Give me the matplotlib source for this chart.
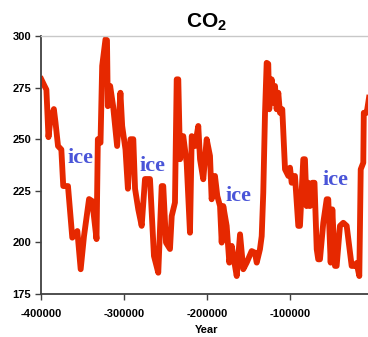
import matplotlib
matplotlib.use('Agg')
import matplotlib.pyplot as plt

plt.rcParams['font.family'] = ['Liberation Sans', 'DejaVu Sans']
plt.rcParams['mathtext.fontset'] = 'custom'
plt.rcParams['mathtext.bf'] = 'Liberation Sans:bold'
plt.rcParams['mathtext.rm'] = 'Liberation Sans'

# CO2 (ppmv), years before present
years = [-399600, -396000, -393500, -391000, -388500, -384500, -382500, -379500,
         -375500, -373200, -367500, -362300, -356200, -352200, -348200, -342100,
         -338300, -333100, -331500, -328300, -326300, -322300, -320500, -319500,
         -316700, -313100, -308300, -304300, -302200, -298200, -295300, -292200,
         -288800, -286700, -282800, -278700, -274700, -268700, -263900, -258700,
         -254600, -252700, -249400, -244600, -242500, -238600, -236500, -234600,
         -232500, -228600, -224500, -220500, -218400, -214500, -210500, -208400,
         -204500, -200400, -196400, -194400, -190400, -187600, -184300, -182300,
         -180400, -176300, -173100, -170200, -168300, -164200, -160200, -156300,
         -152200, -146200, -142200, -140100, -136200, -134100, -132200, -130100,
         -128100, -126200, -125000, -122100, -120100, -118100, -116100, -114100,
         -112100, -109300, -106000, -102000, -100000, -98000, -94000, -90000,
         -88000, -84000, -82000, -80000, -78000, -76000, -73100, -70500,
         -67800, -66000, -63900, -59900, -55800, -53900, -51000, -49000,
         -45800, -43800, -39800, -35800, -31700, -25700, -21700, -19700,
         -16500, -14800, -11700, -11100, -7600, -5700, -3000]
co2 = [279, 276, 274, 251, 260, 264.6, 258, 246.7,
       245, 227.3, 227.3, 202.3, 205.5, 187, 203, 221,
       220, 201.6, 250, 248.3, 285.5, 298.4, 298, 266,
       275.8, 266, 246.7, 272.5, 256.4, 245, 226, 250,
       250, 226, 216, 208, 230.7, 230.7, 193.4, 185.3,
       227.3, 227.3, 199.9, 196.8, 212.8, 219.3, 279, 279,
       240.3, 251.5, 238.6, 204.7, 251.5, 246.7, 256.4, 240.3,
       230.6, 250, 241.9, 220.9, 232.2, 222.5, 217.6, 199.9,
       217.6, 208, 190.2, 198.3, 193.4, 183.7, 203.9, 187,
       190.2, 195.8, 195, 190.2, 196.7, 203, 224.1, 262.8,
       287, 286.5, 264.5, 279, 267.7, 275.8, 264.5, 272.5,
       262.8, 264.5, 235.4, 232.2, 236.2, 228.9, 232.2, 208,
       208, 240.3, 240.3, 217.6, 228.9, 217.6, 228.9, 228.9,
       196.7, 191.8, 191.8, 209.5, 220.9, 220.9, 190.2, 216,
       188.6, 188.6, 208, 209.5, 208, 188.6, 188.6, 190,
       183.7, 235.4, 238.6, 262.8, 262.8, 267.7, 275]

ice_x = [-352400, -265700, -161500, -45200]
ice_y = [238.5, 234.6, 220.2, 227.8]

yticks = [175, 200, 225, 250, 275, 300]
xticks = [-400000, -300000, -200000, -100000]

fig = plt.figure(figsize=(3.68, 3.37), dpi=100)
ax = fig.add_axes([41 / 368, 43 / 337, 332 / 368, 258 / 337])

ax.plot(years, co2, color='#e62800', linewidth=4.2, solid_joinstyle='round')

for x, y in zip(ice_x, ice_y):
    ax.text(x, y, 'ice', color='#4a55d8', fontsize=16, fontweight='bold',
            family='Liberation Serif', ha='center', va='baseline')

ax.set_xlim(-400000, 0)
ax.set_ylim(175, 300)
ax.set_xticks(xticks)
ax.set_yticks(yticks)
ax.set_xticklabels([str(t) for t in xticks], fontsize=8, fontweight='bold')
ax.set_yticklabels([str(t) for t in yticks], fontsize=8, fontweight='bold')
ax.tick_params(axis='y', length=4, width=1, pad=3, color='#404040')
ax.tick_params(axis='x', length=4, width=1, pad=7, color='#404040')
ax.set_xlabel('Year', fontsize=8, fontweight='bold', labelpad=4)

ax.spines['right'].set_visible(False)
ax.spines['top'].set_color('#c8c8c8')
ax.spines['top'].set_linewidth(1)
ax.spines['left'].set_color('#404040')
ax.spines['left'].set_linewidth(1.3)
ax.spines['bottom'].set_color('#404040')
ax.spines['bottom'].set_linewidth(1.3)

fig.text(207 / 368, 1 - 28 / 337, r'$\mathbf{CO_2}$', fontsize=15,
         ha='center', va='baseline')

fig.savefig('out.png', dpi=100)
